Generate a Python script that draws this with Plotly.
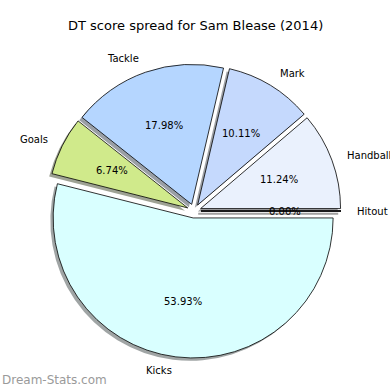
import math
import plotly.graph_objects as go

labels = ["Hitout", "Handball", "Mark", "Tackle", "Goals", "Kicks"]
values = [0, 10, 9, 16, 6, 48]
colors = ["#f0f0ff", "#eaf1fd", "#c5d9fd", "#b5d6ff", "#d0ea8b", "#d9ffff"]
explode = [0.05, 0.05, 0.05, 0.05, 0.05, 0.05]
title = "DT score spread for Sam Blease (2014)"

W = H = 390
CX, CY, R = 194, 211, 140          # pie centre / radius in px
SH = 0.02 * R                       # shadow offset
half = R * (1 + max(explode))       # plotly domain half-size for given radius


def shade(hexcol):
    r, g, b = (int(hexcol[i:i + 2], 16) for i in (1, 3, 5))
    return f"rgba({int(r * 0.3)},{int(g * 0.3)},{int(b * 0.3)},0.5)"


def dom(dx=0, dy=0):
    return dict(x=[(CX + dx - half) / W, (CX + dx + half) / W],
                y=[(H - (CY + dy) - half) / H, (H - (CY + dy) + half) / H])


common = dict(labels=labels, values=values, sort=False, direction="counterclockwise",
              rotation=90, pull=explode, hoverinfo="skip", textinfo="none", showlegend=False)

shadow = go.Pie(**common, domain=dom(-SH, SH),
                marker=dict(colors=[shade(c) for c in colors], line=dict(width=0)))
main = go.Pie(**common, domain=dom(),
              marker=dict(colors=colors, line=dict(color="black", width=0.8)))

fig = go.Figure([shadow, main])

# text positions, matplotlib-style (pct at 0.6 r, labels at 1.1 r)
total = sum(values)
annotations = []
zero_x, zero_y, zsx, zsy = [], [], [], []
theta1 = 0.0
for lab, v, e in zip(labels, values, explode):
    frac = v / total
    theta2 = theta1 + frac * 360
    tm = math.radians((theta1 + theta2) / 2)
    ax = CX + e * R * math.cos(tm)
    ay = CY - e * R * math.sin(tm)
    cosv, sinv = math.cos(tm), math.sin(tm)
    annotations.append(dict(x=ax + 0.6 * R * cosv, y=ay - 0.6 * R * sinv, xref="x", yref="y",
                            text=f"{frac * 100:.2f}%", showarrow=False,
                            xanchor="center", yanchor="middle",
                            font=dict(family="DejaVu Sans", size=10, color="black")))
    annotations.append(dict(x=ax + 1.1 * R * cosv, y=ay - 1.1 * R * sinv, xref="x", yref="y",
                            text=lab, showarrow=False,
                            xanchor="left" if cosv > 0 else "right", yanchor="middle",
                            font=dict(family="DejaVu Sans", size=10, color="black")))
    if v == 0:
        zero_x += [ax, ax + R * math.cos(math.radians(theta1)), None]
        zero_y += [ay, ay - R * math.sin(math.radians(theta1)), None]
        zsx += [ax - SH, ax - SH + R * math.cos(math.radians(theta1)), None]
        zsy += [ay + SH, ay + SH - R * math.sin(math.radians(theta1)), None]
    theta1 = theta2

fig.add_trace(go.Scatter(x=zsx, y=zsy, mode="lines", line=dict(color="rgba(120,120,120,0.7)", width=2),
                         hoverinfo="skip", showlegend=False))
fig.add_trace(go.Scatter(x=zero_x, y=zero_y, mode="lines", line=dict(color="black", width=2.2),
                         hoverinfo="skip", showlegend=False))
fig.add_trace(go.Scatter(x=zero_x, y=zero_y, mode="lines", line=dict(color=colors[0], width=0.6),
                         hoverinfo="skip", showlegend=False))

annotations.append(dict(text=title, x=W / 2, y=25, xref="x", yref="y", showarrow=False,
                        xanchor="center", yanchor="middle",
                        font=dict(family="DejaVu Sans", size=13, color="black")))
annotations.append(dict(text="Dream-Stats.com", x=0, y=380, xref="x", yref="y", showarrow=False,
                        xanchor="left", yanchor="middle",
                        font=dict(family="DejaVu Sans", size=12, color="#9a9a9a")))

fig.update_layout(
    width=W, height=H, margin=dict(l=0, r=0, t=0, b=0),
    paper_bgcolor="white", plot_bgcolor="rgba(0,0,0,0)",
    xaxis=dict(range=[0, W], visible=False, domain=[0, 1], fixedrange=True),
    yaxis=dict(range=[H, 0], visible=False, domain=[0, 1], fixedrange=True),
    annotations=annotations,
)
fig.write_html("out.html", config={"displayModeBar": False},
               post_script="document.body.style.margin='0';document.body.style.overflow='hidden';")
